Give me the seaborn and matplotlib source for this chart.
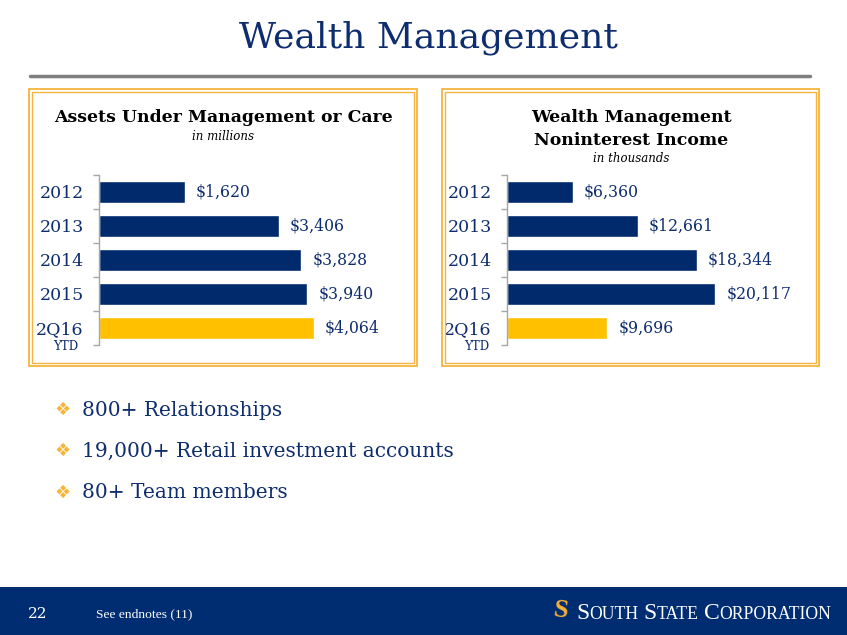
import matplotlib
matplotlib.use("Agg")
import matplotlib.pyplot as plt
import matplotlib.patches as patches
import pandas as pd
import seaborn as sns

# dados
periodos = ['2012', '2013', '2014', '2015', '2Q16']
ativos = [1620, 3406, 3828, 3940, 4064]          # em milhoes
receita = [6360, 12661, 18344, 20117, 9696]      # em milhares
destaque = ['hist', 'hist', 'hist', 'hist', 'ytd']
bullets = ['800+ Relationships',
           '19,000+ Retail investment accounts',
           '80+ Team members']

NAVY = '#0E2D6E'
BAR_NAVY = '#002A6C'
GOLD = '#FFC000'
BORDER = '#F6B43C'
SERIF = ['DejaVu Serif']

sns.set_theme(style='white')
plt.rcParams['font.family'] = SERIF

W, H = 847, 635
fig = plt.figure(figsize=(W / 100, H / 100), dpi=100)
fig.patch.set_facecolor('white')


def fx(px):
    return px / W


def fy(py):
    return 1 - py / H


# titulo e linha
fig.text(fx(428), fy(38), 'Wealth Management', ha='center', va='center',
         fontsize=26, color=NAVY)
fig.add_artist(plt.Line2D([fx(30), fx(810)], [fy(76), fy(76)], color='#7F7F7F',
                          lw=2.5, transform=fig.transFigure))

# molduras dos paineis
for x0, x1 in [(29, 417), (442, 819)]:
    for off, lw in [(0, 1.3), (3, 1.0)]:
        fig.add_artist(patches.Rectangle(
            (fx(x0 + off), fy(366 - off)), fx(x1 - x0 - 2 * off), (366 - 89 - 2 * off) / H,
            transform=fig.transFigure, fill=False, edgecolor=BORDER, lw=lw))

# titulos dos paineis
fig.text(fx(223), fy(118), 'Assets Under Management or Care', ha='center', va='center',
         fontsize=12.4, fontweight='bold', color='black')
fig.text(fx(223), fy(136), 'in millions', ha='center', va='center',
         fontsize=8.5, style='italic', color='black')
fig.text(fx(631), fy(117), 'Wealth Management', ha='center', va='center',
         fontsize=12.4, fontweight='bold', color='black')
fig.text(fx(631), fy(140), 'Noninterest Income', ha='center', va='center',
         fontsize=12.4, fontweight='bold', color='black')
fig.text(fx(631), fy(158), 'in thousands', ha='center', va='center',
         fontsize=8.5, style='italic', color='black')


def painel(left_px, xmax, valores, ytd_x):
    ax = fig.add_axes([fx(left_px), fy(345), fx(300), 170 / H])
    df = pd.DataFrame({'periodo': periodos, 'valor': valores, 'tipo': destaque})
    sns.barplot(data=df, x='valor', y='periodo', hue='tipo', orient='h',
                palette={'hist': BAR_NAVY, 'ytd': GOLD}, width=0.64,
                dodge=False, legend=False, ax=ax, saturation=1)
    ax.set_xlim(0, xmax)
    ax.set_ylim(4.5, -0.5)
    ax.set_xlabel('')
    ax.set_ylabel('')
    ax.set_xticks([])
    ax.set_facecolor('none')
    for s in ['top', 'right', 'bottom']:
        ax.spines[s].set_visible(False)
    ax.spines['left'].set_color('#A6A6A6')
    ax.spines['left'].set_linewidth(1)
    ax.set_yticks(range(len(periodos)))
    ax.set_yticklabels(periodos, fontsize=12.5, color=NAVY)
    ax.set_yticks([i - 0.5 for i in range(len(periodos) + 1)], minor=True)
    ax.tick_params(axis='y', which='major', length=0, pad=11)
    ax.tick_params(axis='y', which='minor', length=4, width=1, color='#A6A6A6', left=True)
    for i, v in enumerate(valores):
        ax.annotate(f'${v:,}', (v, i), xytext=(8, 0), textcoords='offset points',
                    ha='left', va='center', fontsize=11.3, color=NAVY)
    fig.text(fx(ytd_x), fy(347), 'YTD', ha='center', va='center', fontsize=8.5, color=NAVY)
    return ax


painel(99, 5680, ativos, 66)
painel(507, 29000, receita, 477)

# bullets
for yy, txt in zip([410, 451, 493], bullets):
    fig.text(fx(63), fy(yy), '\u2756', ha='center', va='center', fontsize=13,
             color='#F7B538', family=['DejaVu Sans'])
    fig.text(fx(82), fy(yy), txt, ha='left', va='center', fontsize=14.5, color=NAVY)

# rodape
fig.add_artist(patches.Rectangle((0, 0), 1, 48 / H, transform=fig.transFigure,
                                 facecolor='#002D72', edgecolor='none'))
fig.text(fx(28), fy(614), '22', ha='left', va='center', fontsize=11, color='white')
fig.text(fx(96), fy(614), 'See endnotes (11)', ha='left', va='center', fontsize=9.7,
         color='white', family=['Liberation Serif'])
fig.text(fx(561), fy(611), 'S', ha='center', va='center', fontsize=19, fontweight='bold',
         color='#F9B233', family=['Liberation Serif'], rotation=-8)

# "SOUTH STATE CORPORATION" em versaletes
pecas = [('S', 17), ('OUTH', 12.7), (' ', 12.7), ('S', 17), ('TATE', 12.7), (' ', 12.7),
         ('C', 17), ('ORPORATION', 12.7)]
renderer = fig.canvas.get_renderer()
x_px = 576
for txt, sz in pecas:
    t = fig.text(fx(x_px), fy(619), txt, ha='left', va='baseline', fontsize=sz,
                 color='white', family=['Liberation Serif'])
    larg = t.get_window_extent(renderer).width
    if txt == ' ':
        larg = 5
    x_px += larg

fig.savefig('out.png', dpi=100)
